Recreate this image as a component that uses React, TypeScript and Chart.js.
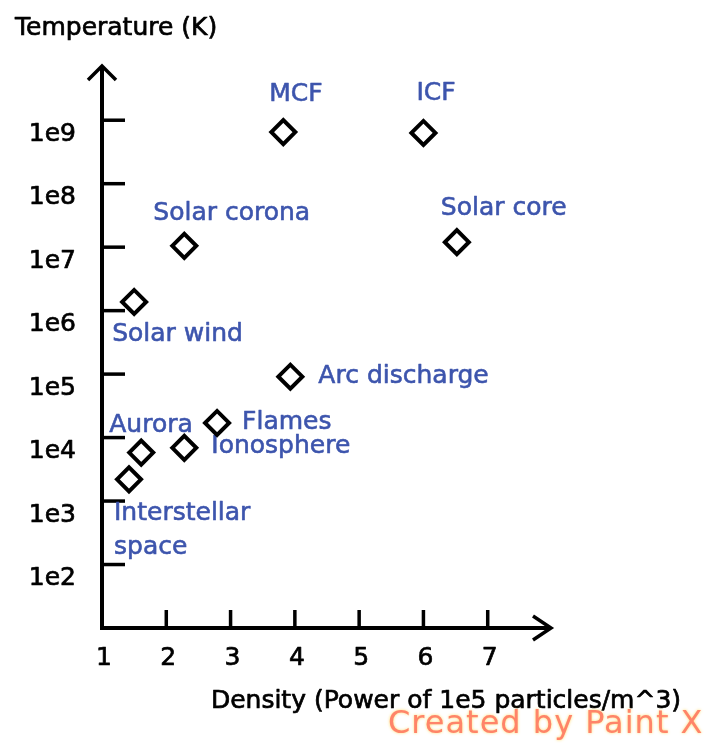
import React, { useEffect, useRef } from 'react';
import { Chart, registerables } from 'chart.js';

Chart.register(...registerables);

// ---- data ----
const NAMES = [
  'MCF',
  'ICF',
  'Solar corona',
  'Solar core',
  'Solar wind',
  'Arc discharge',
  'Flames',
  'Ionosphere',
  'Aurora',
  'Interstellar\nspace',
];
const DENSITY = [3.82, 6.0, 2.28, 6.52, 1.5, 3.93, 2.79, 2.28, 1.61, 1.42];
const TEMPERATURE = [6.5e8, 6.3e8, 1.05e7, 1.2e7, 1.37e6, 9.1e4, 1.7e4, 6.9e3, 5.8e3, 2.2e3];

const X_TICKS = [1, 2, 3, 4, 5, 6, 7];
const X_TICK_LABELS = ['1', '2', '3', '4', '5', '6', '7'];
const Y_TICKS = [1e2, 1e3, 1e4, 1e5, 1e6, 1e7, 1e8, 1e9];
const Y_TICK_LABELS = ['1e2', '1e3', '1e4', '1e5', '1e6', '1e7', '1e8', '1e9'];

const X_MIN = 1;
const X_MAX = 8;
const Y_MIN = 10;
const Y_MAX = Math.pow(10, 9.87);

const Y_TITLE = 'Temperature (K)';
const X_TITLE = 'Density (Power of 1e5 particles/m^3)';
const WATERMARK = 'Created by Paint X';

// ---- styles ----
const FONT = '25px "DejaVu Sans", sans-serif';
const LABEL_COLOR = '#3d55ad';
// label offsets from the marker centre: [dx to left edge, dy to middle of first line]
const LABEL_OFFSETS: [number, number][] = [
  [-14, -38],
  [-7, -39],
  [-31, -32],
  [-16, -34],
  [-22, 33],
  [28, 0],
  [25, 0],
  [27, -1],
  [-32, -27],
  [-15, 34],
];

function heavyText(ctx: CanvasRenderingContext2D, text: string, x: number, y: number, w = 0.7) {
  ctx.fillText(text, x, y);
  ctx.save();
  ctx.lineWidth = w;
  ctx.strokeStyle = ctx.fillStyle as string;
  ctx.lineJoin = 'round';
  ctx.strokeText(text, x, y);
  ctx.restore();
}

const paintPlugin = {
  id: 'paintAxes',
  beforeDatasetsDraw(chart: any) {
    const { ctx, chartArea: a, scales } = chart;
    const xs = scales.x;
    const ys = scales.y;
    ctx.save();
    ctx.strokeStyle = '#000';
    ctx.fillStyle = '#000';

    // axes
    ctx.lineWidth = 4;
    ctx.lineCap = 'butt';
    ctx.beginPath();
    ctx.moveTo(a.left, a.top + 1);
    ctx.lineTo(a.left, a.bottom);
    ctx.lineTo(a.right - 1, a.bottom);
    ctx.stroke();

    // arrow heads
    ctx.lineWidth = 3.5;
    ctx.lineJoin = 'miter';
    ctx.beginPath();
    ctx.moveTo(a.left - 14, a.top + 15);
    ctx.lineTo(a.left, a.top + 1);
    ctx.lineTo(a.left + 14, a.top + 15);
    ctx.stroke();
    ctx.beginPath();
    ctx.moveTo(a.right - 19, a.bottom - 12);
    ctx.lineTo(a.right - 1, a.bottom);
    ctx.lineTo(a.right - 19, a.bottom + 12);
    ctx.stroke();

    // y ticks
    ctx.lineWidth = 3.5;
    ctx.font = FONT;
    ctx.textAlign = 'right';
    ctx.textBaseline = 'middle';
    Y_TICKS.forEach((v, i) => {
      const py = ys.getPixelForValue(v);
      ctx.beginPath();
      ctx.moveTo(a.left, py);
      ctx.lineTo(a.left + 23, py);
      ctx.stroke();
      heavyText(ctx, Y_TICK_LABELS[i], 76, py + 14);
    });

    // x ticks
    ctx.textAlign = 'center';
    X_TICKS.forEach((v, i) => {
      const px = xs.getPixelForValue(v);
      if (i > 0) {
        ctx.beginPath();
        ctx.moveTo(px, a.bottom);
        ctx.lineTo(px, a.bottom - 18);
        ctx.stroke();
      }
      heavyText(ctx, X_TICK_LABELS[i], px + 2, a.bottom + 30);
    });

    // titles
    ctx.textBaseline = 'alphabetic';
    ctx.textAlign = 'left';
    heavyText(ctx, Y_TITLE, 15, 35);
    ctx.textAlign = 'center';
    heavyText(ctx, X_TITLE, 446, 708);

    // point labels
    ctx.fillStyle = LABEL_COLOR;
    ctx.textAlign = 'left';
    ctx.textBaseline = 'middle';
    NAMES.forEach((name, i) => {
      const px = xs.getPixelForValue(DENSITY[i]);
      const py = ys.getPixelForValue(TEMPERATURE[i]);
      const [dx, dy] = LABEL_OFFSETS[i];
      name.split('\n').forEach((line, j) => {
        heavyText(ctx, line, px + dx, py + dy + j * 34, 0.6);
      });
    });

    // watermark
    ctx.font = '32px "DejaVu Sans", sans-serif';
    (ctx as any).letterSpacing = '1px';
    ctx.textAlign = 'left';
    ctx.textBaseline = 'alphabetic';
    ctx.shadowColor = 'rgba(255, 214, 90, 0.9)';
    ctx.shadowBlur = 3;
    ctx.fillStyle = '#ff8469';
    ctx.fillText(WATERMARK, 388, 733);
    ctx.restore();
  },
};

export default function App() {
  const ref = useRef<HTMLCanvasElement | null>(null);

  useEffect(() => {
    const canvas = ref.current;
    if (!canvas) return;
    const chart = new Chart(canvas, {
      type: 'scatter',
      data: {
        datasets: [
          {
            data: DENSITY.map((d, i) => ({ x: d, y: TEMPERATURE[i] })),
            pointStyle: 'rectRot',
            pointRadius: 12,
            pointHoverRadius: 12,
            pointBorderWidth: 4,
            pointBackgroundColor: '#ffffff',
            pointBorderColor: '#000000',
          },
        ],
      },
      options: {
        animation: false,
        responsive: false,
        devicePixelRatio: 1,
        layout: { padding: { left: 102, right: 157, top: 65, bottom: 117 } },
        plugins: { legend: { display: false }, tooltip: { enabled: false } },
        events: [],
        scales: {
          x: { type: 'linear', min: X_MIN, max: X_MAX, display: false },
          y: { type: 'logarithmic', min: Y_MIN, max: Y_MAX, display: false },
        },
      },
      plugins: [paintPlugin],
    });
    return () => chart.destroy();
  }, []);

  return (
    <div style={{ position: 'absolute', left: 0, top: 0, width: 709, height: 745, background: '#fff' }}>
      <canvas ref={ref} width={709} height={745} style={{ display: 'block' }} />
    </div>
  );
}
